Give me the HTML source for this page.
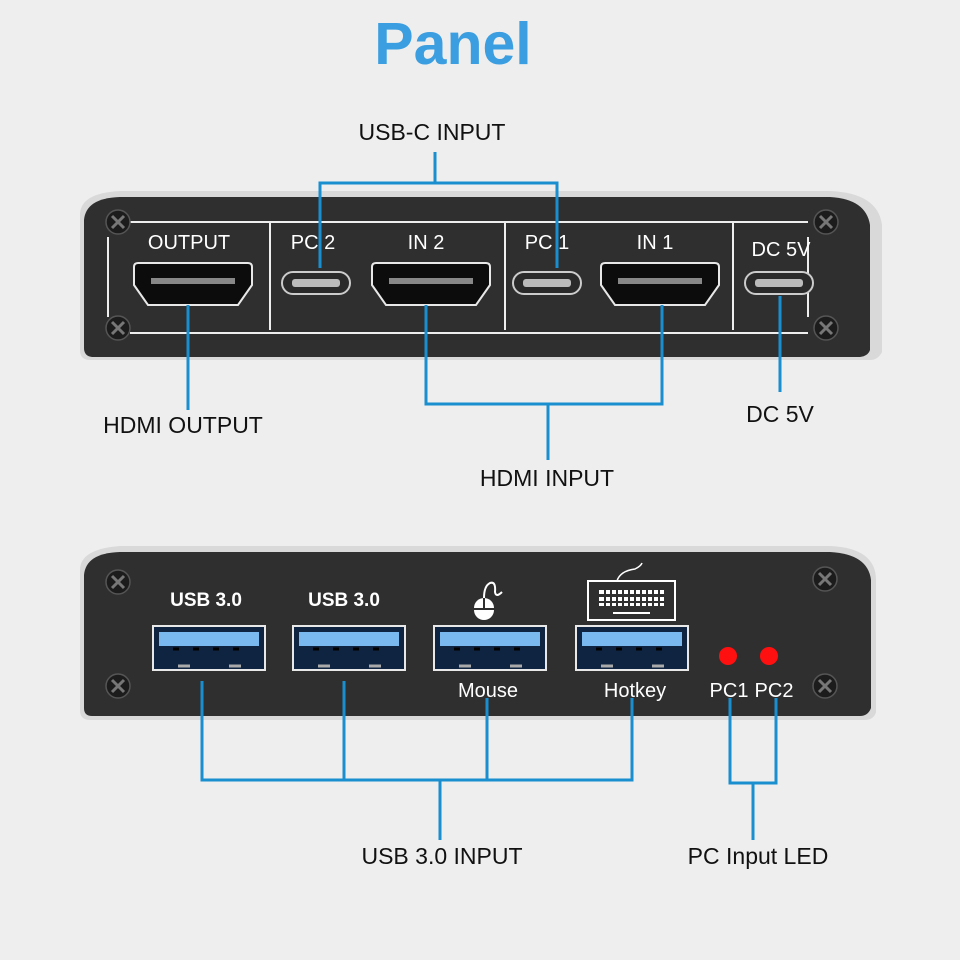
<!DOCTYPE html>
<html><head><meta charset="utf-8"><style>
body{margin:0;background:#eeeeee;}
svg{display:block}
text{font-family:"Liberation Sans",Arial,sans-serif;}
</style></head><body>
<svg width="960" height="960" viewBox="0 0 960 960" xmlns="http://www.w3.org/2000/svg">
<defs>
<g id="screw"><circle r="12" fill="#1c1c1c" stroke="#555" stroke-width="1.5"/><path d="M-6,-6L6,6M6,-6L-6,6" stroke="#777" stroke-width="3"/></g>
<g id="hdmi"><path d="M0,4 Q0,0 4,0 H114 Q118,0 118,4 V22 L104,42 H14 L0,22Z" fill="#0c0c0c" stroke="#e8e8e8" stroke-width="2"/><rect x="17" y="15" width="84" height="6" fill="#888"/></g>
<g id="usbc"><rect width="68" height="22" rx="11" fill="#2a2a2a" stroke="#ccc" stroke-width="2"/><rect x="10" y="7" width="48" height="8" rx="3" fill="#bbb"/></g>
<g id="usba"><rect width="112" height="44" fill="#0f2440" stroke="#e8e8e8" stroke-width="2"/><rect x="6" y="6" width="100" height="14" fill="#7ab8f0"/><path d="M20,23h6M40,23h6M60,23h6M80,23h6" stroke="#000" stroke-width="3"/><path d="M25,40h12M76,40h12" stroke="#aaa" stroke-width="3"/></g>
</defs>
<text x="453" y="64" text-anchor="middle" font-size="59" font-weight="bold" fill="#3a9ee0">Panel</text>

<!-- top panel -->
<path d="M80,215 Q80,193 120,191 H830 Q878,193 882,225 V352 Q878,360 870,360 H90 Q80,360 80,350Z" fill="#d9d9d9"/>
<path d="M84,220 Q86,198 120,197 H830 Q866,199 870,225 V350 Q868,356 860,357 H92 Q84,356 84,348Z" fill="#2f2f2f"/>
<g stroke="#eee" stroke-width="2" fill="none">
<path d="M130,222H808M130,333H808M108,237V317M808,237V317M270,222V330M505,222V330M733,222V330"/>
</g>
<use href="#screw" x="118" y="222"/><use href="#screw" x="118" y="328"/>
<use href="#screw" x="826" y="222"/><use href="#screw" x="826" y="328"/>
<g fill="#fff" font-size="20" text-anchor="middle">
<text x="189" y="249">OUTPUT</text><text x="313" y="249">PC 2</text><text x="426" y="249">IN 2</text>
<text x="547" y="249">PC 1</text><text x="655" y="249">IN 1</text><text x="781" y="256">DC 5V</text>
</g>
<use href="#hdmi" x="134" y="263"/><use href="#hdmi" x="372" y="263"/><use href="#hdmi" x="601" y="263"/>
<use href="#usbc" x="282" y="272"/><use href="#usbc" x="513" y="272"/><use href="#usbc" x="745" y="272"/>
<g stroke="#1a8fd0" stroke-width="3" fill="none">
<path d="M435,152V183M320,268V183H557V268"/>
<path d="M188,305V410"/>
<path d="M426,305V404H662V305M548,404V460"/>
<path d="M780,296V392"/>
</g>
<g font-size="23" fill="#111" text-anchor="middle">
<text x="432" y="140">USB-C INPUT</text>
<text x="183" y="433">HDMI OUTPUT</text>
<text x="547" y="486">HDMI INPUT</text>
<text x="780" y="422">DC 5V</text>
</g>

<!-- bottom panel -->
<path d="M80,570 Q80,549 120,546 H830 Q876,548 876,580 V712 Q874,720 864,720 H90 Q80,720 80,710Z" fill="#d9d9d9"/>
<path d="M84,575 Q86,553 120,552 H830 Q868,554 871,580 V708 Q868,716 860,716 H92 Q84,716 84,708Z" fill="#2f2f2f"/>
<use href="#screw" x="118" y="582"/><use href="#screw" x="118" y="686"/>
<use href="#screw" x="825" y="579"/><use href="#screw" x="825" y="686"/>
<g fill="#fff" font-size="19" font-weight="bold" text-anchor="middle">
<text x="206" y="606">USB 3.0</text><text x="344" y="606">USB 3.0</text>
</g>
<!-- mouse icon -->
<rect x="474" y="598" width="20" height="22" rx="10" fill="#fff"/>
<path d="M474,609H494M484,598V609" stroke="#2f2f2f" stroke-width="2"/>
<path d="M484,598 Q484,586 490,583 Q496,581 495,592 Q496,598 502,592" stroke="#fff" stroke-width="2" fill="none"/>
<!-- keyboard icon -->
<rect x="588" y="581" width="87" height="39" fill="none" stroke="#fff" stroke-width="2"/>
<path d="M617,581 Q620,571 635,569 Q641,566 642,563" stroke="#fff" stroke-width="1.5" fill="none"/>
<g fill="#fff">
<rect x="599" y="590" width="65" height="4"/><rect x="599" y="597" width="65" height="4"/><rect x="599" y="603" width="65" height="3"/>
<rect x="613" y="612" width="37" height="2"/>
</g>
<g stroke="#2f2f2f" stroke-width="2"><path d="M605,588V607M611,588V607M617,588V607M623,588V607M629,588V607M635,588V607M641,588V607M647,588V607M653,588V607M659,588V607"/></g>
<use href="#usba" x="153" y="626"/><use href="#usba" x="293" y="626"/><use href="#usba" x="434" y="626"/><use href="#usba" x="576" y="626"/>
<circle cx="728" cy="656" r="9" fill="#ff1010"/><circle cx="769" cy="656" r="9" fill="#ff1010"/>
<g fill="#fff" font-size="20" text-anchor="middle">
<text x="488" y="697">Mouse</text><text x="635" y="697">Hotkey</text>
<text x="729" y="697">PC1</text><text x="774" y="697">PC2</text>
</g>
<g stroke="#1a8fd0" stroke-width="3" fill="none">
<path d="M202,681V780H632V698M344,681V780M487,698V780M440,780V840"/>
<path d="M730,698V783H776V698M753,783V840"/>
</g>
<g font-size="23" fill="#111" text-anchor="middle">
<text x="442" y="864">USB 3.0 INPUT</text>
<text x="758" y="864">PC Input LED</text>
</g>
</svg>
</body></html>
